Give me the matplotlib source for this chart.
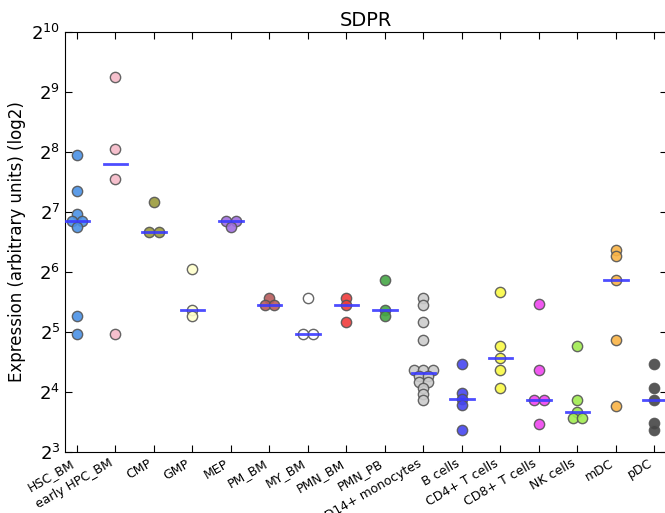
import numpy as np
import matplotlib
matplotlib.use('Agg')
import matplotlib.pyplot as plt

# log2 expression values, one list per cell type
categories = ['HSC_BM', 'early HPC_BM', 'CMP', 'GMP', 'MEP', 'PM_BM', 'MY_BM',
              'PMN_BM', 'PMN_PB', 'CD14+ monocytes', 'B cells', 'CD4+ T cells',
              'CD8+ T cells', 'NK cells', 'mDC', 'pDC']
hsc_bm = [7.95, 7.35, 6.97, 6.85, 6.85, 6.75, 5.26, 4.96]
early_hpc_bm = [9.25, 8.05, 7.55, 4.96]
cmp_ = [7.16, 6.66, 6.66]
gmp = [6.05, 5.36, 5.26]
mep = [6.85, 6.85, 6.75]
pm_bm = [5.56, 5.45, 5.45]
my_bm = [5.56, 4.96, 4.96]
pmn_bm = [5.56, 5.45, 5.16]
pmn_pb = [5.86, 5.36, 5.26]
cd14_mono = [5.56, 5.45, 5.16, 4.86, 4.37, 4.37, 4.37, 4.27, 4.27,
             4.17, 4.17, 4.07, 3.97, 3.87]
b_cells = [4.46, 3.98, 3.88, 3.78, 3.37]
cd4_t = [5.66, 4.76, 4.56, 4.37, 4.07]
cd8_t = [5.46, 4.37, 3.87, 3.87, 3.47]
nk_cells = [4.76, 3.87, 3.67, 3.57, 3.57]
mdc = [6.37, 6.26, 5.86, 4.86, 3.76]
pdc = [4.46, 4.07, 3.87, 3.48, 3.37]
groups = [hsc_bm, early_hpc_bm, cmp_, gmp, mep, pm_bm, my_bm, pmn_bm, pmn_pb,
          cd14_mono, b_cells, cd4_t, cd8_t, nk_cells, mdc, pdc]
colors = ['#4a91e6', '#f6b9c8', '#9a9a3c', '#ffffcc', '#a06ee0', '#b85c5c',
          '#ffffff', '#f03c3c', '#46a646', '#cccccc', '#4646f0', '#fafa46',
          '#f046f0', '#a0ec50', '#fab446', '#464646']

fig = plt.figure(figsize=(6.65, 5.13), dpi=100)
ax = fig.add_axes([65/665, 61/513, 602/665, 420/513])

spread = 0.24    # horizontal step between points sharing the same value
for i, (vals, c) in enumerate(zip(groups, colors)):
    vals = np.array(vals)
    xs = np.zeros(len(vals))
    for v in np.unique(vals):
        idx = np.where(vals == v)[0]
        xs[idx] = (np.arange(len(idx)) - (len(idx) - 1) / 2) * spread
    ax.scatter(i + xs, 2.0 ** vals, s=55, color=c, edgecolor='#555555',
               linewidth=1, alpha=0.9, zorder=3)
    med = np.median(vals)
    ax.plot([i - 0.31, i + 0.31], [2.0 ** med, 2.0 ** med], color='#3a3aff',
            lw=2, alpha=0.9, zorder=4)

ax.set_yscale('log', base=2)
ax.set_ylim(2 ** 3, 2 ** 10)
ax.set_xlim(-0.31, -0.31 + 602 / 38.5)
ax.set_xticks(range(len(categories)))
ax.set_xticklabels(categories, rotation=30, ha='right', fontsize=9)
ax.tick_params(axis='both', direction='in', top=True, right=True, length=5)
ax.tick_params(axis='y', labelsize=13)
ax.minorticks_off()
ax.set_ylabel('Expression (arbitrary units) (log2)', fontsize=12)
ax.set_title('SDPR', fontsize=14, pad=4)

fig.savefig('out.png', dpi=100)
